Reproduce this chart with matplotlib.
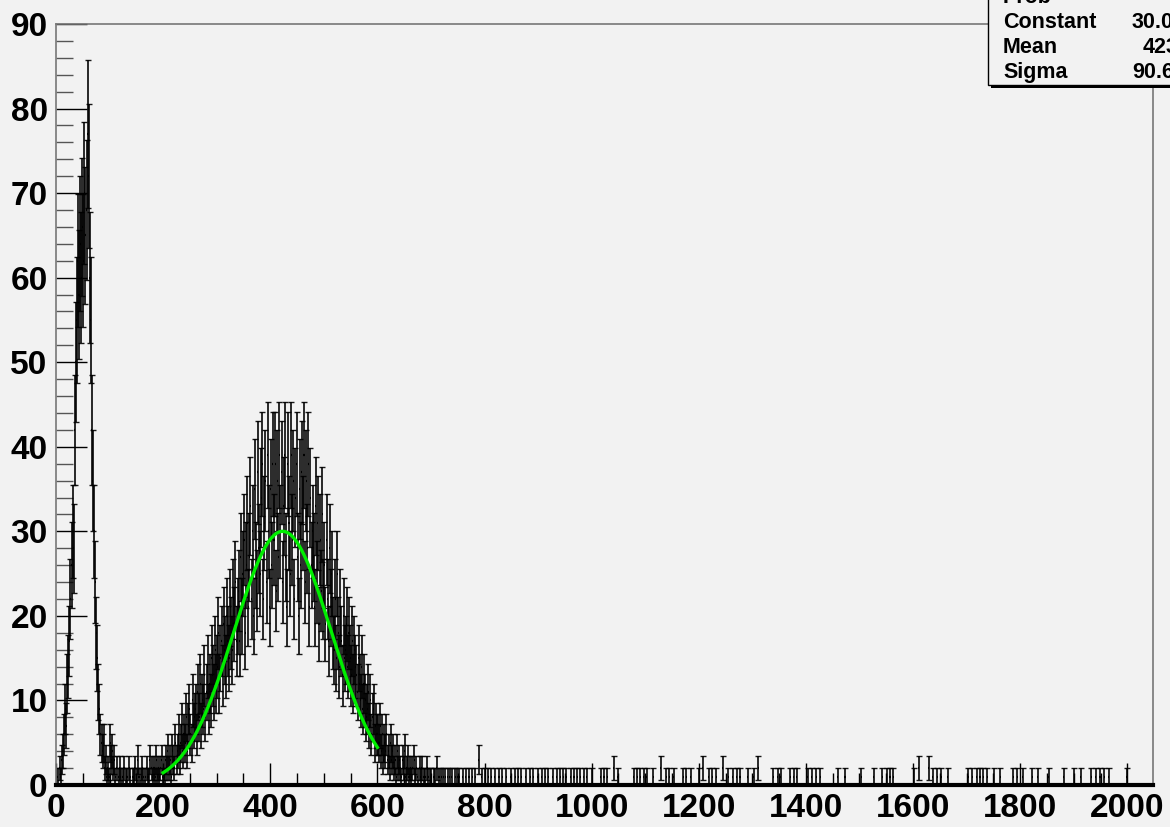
import numpy as np
import matplotlib.pyplot as plt
from matplotlib.patches import Rectangle
from matplotlib.ticker import MultipleLocator

# bin contents, 2-unit bins starting at 0
bin_width = 2
counts = [
    0, 1, 0, 2, 1, 3, 4, 6, 9, 7,
    12, 14, 17, 22, 26, 30, 28, 42, 50, 55,
    62, 58, 64, 60, 66, 62, 70, 65, 68, 77,
    72, 60, 55, 42, 36, 30, 24, 18, 15, 11,
    9, 6, 5, 4, 5, 2, 3, 1, 2, 1,
    5, 3, 4, 2, 3, 1, 2, 0, 1, 2,
    1, 0, 1, 2, 0, 1, 1, 0, 2, 1,
    0, 1, 1, 2, 0, 1, 3, 1, 0, 1,
    2, 1, 0, 1, 2, 1, 1, 3, 0, 2,
    1, 2, 1, 3, 1, 2, 1, 2, 3, 1,
    2, 1, 3, 2, 4, 2, 3, 1, 4, 3,
    2, 5, 3, 4, 6, 3, 5, 7, 4, 6,
    5, 8, 4, 7, 9, 6, 5, 10, 7, 8,
    9, 6, 11, 8, 12, 7, 10, 9, 13, 8,
    11, 14, 9, 12, 10, 15, 13, 11, 16, 12,
    14, 18, 12, 15, 17, 13, 19, 16, 14, 20,
    17, 15, 21, 18, 16, 22, 19, 24, 17, 20,
    23, 17, 27, 20, 25, 29, 18, 26, 31, 21,
    27, 33, 22, 30, 20, 35, 26, 23, 37, 28,
    25, 34, 38, 22, 31, 36, 24, 39, 30, 21,
    35, 26, 38, 29, 38, 23, 36, 27, 39, 30,
    37, 24, 33, 39, 27, 21, 38, 31, 25, 39,
    29, 36, 22, 34, 38, 27, 20, 35, 26, 37,
    31, 39, 24, 36, 28, 38, 21, 34, 26, 30,
    27, 21, 33, 24, 31, 19, 29, 23, 32, 22,
    26, 19, 29, 22, 17, 28, 21, 25, 18, 16,
    22, 15, 25, 18, 14, 21, 17, 13, 20, 15,
    16, 19, 14, 18, 15, 13, 17, 12, 16, 14,
    13, 11, 15, 12, 10, 14, 9, 12, 10, 8,
    9, 11, 7, 10, 6, 8, 9, 5, 7, 6,
    6, 5, 7, 4, 6, 3, 5, 4, 6, 3,
    4, 2, 5, 3, 4, 2, 3, 1, 4, 2,
    3, 2, 1, 3, 2, 4, 1, 2, 3, 1,
    2, 1, 2, 0, 3, 1, 2, 1, 0, 2,
    1, 2, 0, 1, 1, 0, 2, 1, 0, 1,
    1, 0, 1, 1, 0, 2, 0, 1, 0, 1,
]

# sparse tail above 720: bin start and content (everything else is empty)
tail_pos = [
    722, 726, 730, 734, 738, 744, 748, 752, 758, 764, 770, 776, 782, 788,
    794, 800, 806, 812, 818, 826, 832, 840, 848, 856, 862, 868, 876, 884,
    890, 898, 906, 912, 918, 926, 934, 940, 946, 952, 960, 966, 972,
    978, 984, 990, 1000, 1016, 1022, 1028, 1040, 1048, 1078, 1084, 1090,
    1096, 1102, 1114, 1128, 1138, 1144, 1152, 1170, 1176, 1184, 1200, 1206,
    1218, 1224, 1232, 1244, 1254, 1262, 1270, 1276, 1290, 1302, 1310, 1338,
    1346, 1352, 1370, 1376, 1382, 1402, 1410, 1418, 1426, 1458, 1472, 1502,
    1526, 1542, 1550, 1556, 1562, 1600, 1610, 1628, 1636, 1644, 1652, 1664,
    1702, 1710, 1718, 1724, 1730, 1738, 1750, 1762, 1786, 1794, 1804, 1822,
    1832, 1852, 1880, 1900, 1912, 1932, 1940, 1948, 1956, 1964, 1998,
]
tail_counts = [
    1, 1, 1, 1, 1, 1, 1, 1, 1, 1, 1, 1, 1, 3,
    1, 1, 1, 1, 1, 1, 1, 1, 1, 1, 1, 1, 1, 1,
    1, 1, 1, 1, 1, 1, 1, 1, 1, 1, 1, 1, 1,
    1, 1, 1, 1, 1, 1, 1, 2, 1, 1, 1, 1,
    1, 1, 1, 2, 1, 1, 1, 1, 1, 1, 1, 2,
    1, 1, 1, 2, 1, 1, 1, 1, 1, 1, 2, 1,
    1, 1, 1, 1, 1, 1, 1, 1, 1, 1, 1, 1,
    1, 1, 1, 1, 1, 1, 2, 2, 1, 1, 1, 1,
    1, 1, 1, 1, 1, 1, 1, 1, 1, 1, 1, 1,
    1, 1, 1, 1, 1, 1, 1, 1, 1, 1, 1,
]

# gaus fit, parameters as in the stats box
fit_const, fit_mean, fit_sigma = 30.0, 423, 90.6
fit_lo, fit_hi = 200, 600

stat_names = ["Prob", "Constant", "Mean", "Sigma"]
stat_values = ["", "30.0", "423", "90.6"]

bg = "#f2f2f2"
plt.rcParams["font.family"] = ["Liberation Sans", "DejaVu Sans"]
plt.rcParams["font.weight"] = "bold"

W, H = 1170, 827
fig = plt.figure(figsize=(W / 100, H / 100), dpi=100, facecolor=bg)
ax = fig.add_axes([56 / W, 42 / H, (1153 - 56) / W, 761 / H])
ax.set_facecolor(bg)

x_left = np.concatenate([np.arange(len(counts)) * bin_width, tail_pos]).astype(float)
y = np.concatenate([counts, tail_counts]).astype(float)
xc = x_left + bin_width / 2

ax.errorbar(xc, y, yerr=np.sqrt(y), fmt="none", ecolor="black",
            elinewidth=1.3, capsize=2.4, capthick=1.0, alpha=0.9)
ax.hlines(y, x_left, x_left + bin_width, color="black", lw=1.6)

xs = np.linspace(fit_lo, fit_hi, 300)
ax.plot(xs, fit_const * np.exp(-0.5 * ((xs - fit_mean) / fit_sigma) ** 2),
        color="#00ee00", lw=2.4, zorder=5)

ax.set_xlim(0, 2048)
ax.set_ylim(0, 90)
ax.xaxis.set_major_locator(MultipleLocator(200))
ax.xaxis.set_minor_locator(MultipleLocator(50))
ax.yaxis.set_major_locator(MultipleLocator(10))
ax.yaxis.set_minor_locator(MultipleLocator(2))
ax.tick_params(axis="both", which="both", direction="in", color="black",
               width=1, labelsize=24)
ax.tick_params(axis="y", which="major", length=22, pad=6)
ax.tick_params(axis="y", which="minor", length=12, color="#555555")
ax.tick_params(axis="x", which="major", length=16, pad=6)
ax.tick_params(axis="x", which="minor", length=8.5)

for s in ["left", "top", "right"]:
    ax.spines[s].set_color("#777777")
    ax.spines[s].set_linewidth(1.2)
ax.spines["bottom"].set_color("black")
ax.spines["bottom"].set_linewidth(3)

# stats box, partly outside the canvas like the original
shadow = Rectangle((991 / W, (H - 88) / H), 300 / W, 150 / H,
                   transform=fig.transFigure, facecolor="black",
                   edgecolor="none", zorder=10)
box = Rectangle((988 / W, (H - 85) / H), 300 / W, 150 / H,
                transform=fig.transFigure, facecolor=bg,
                edgecolor="black", lw=1, zorder=11)
fig.add_artist(shadow)
fig.add_artist(box)
baselines = [3, 28, 53, 78]
value_x = [1132, 1132, 1143, 1132]
for name, val, yb, vx in zip(stat_names, stat_values, baselines, value_x):
    fig.text(1003 / W, 1 - yb / H, name, ha="left", va="baseline",
             fontsize=15.5, fontweight="bold", zorder=12)
    if val:
        fig.text(vx / W, 1 - yb / H, val, ha="left", va="baseline",
                 fontsize=15.5, fontweight="bold", zorder=12)

fig.savefig("out.png", dpi=100, facecolor=bg)
